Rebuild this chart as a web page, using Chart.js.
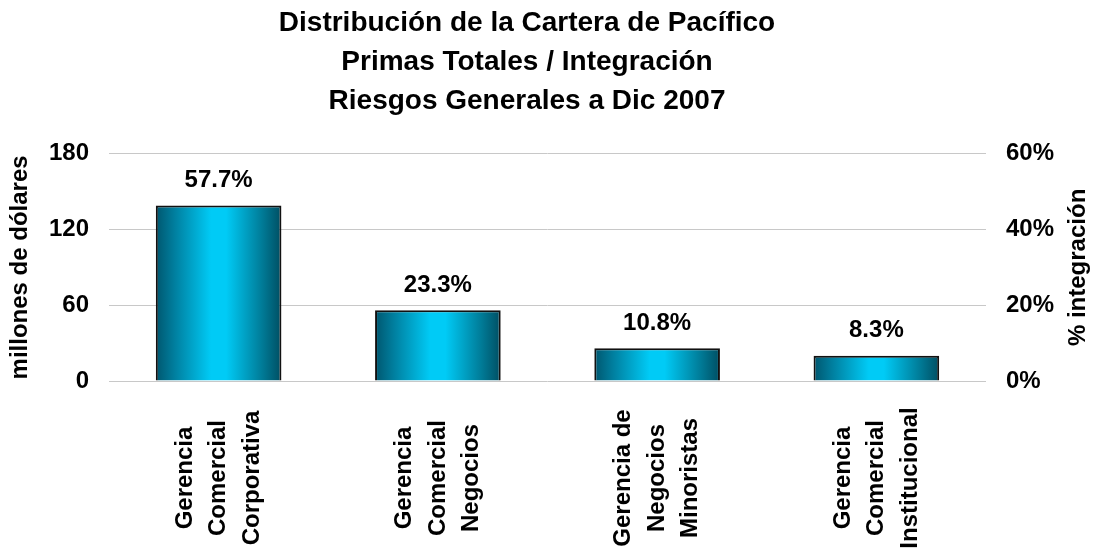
<!DOCTYPE html>
<html>
<head>
<meta charset="utf-8">
<script src="https://cdn.jsdelivr.net/npm/chart.js@4/dist/chart.umd.min.js"></script>
<style>
  body { margin: 0; background: #fff; }
  #wrap { width: 1096px; height: 554px; position: relative; }
</style>
</head>
<body>
<div id="wrap"><canvas id="cartera-chart"></canvas></div>
<script>
/* Distribución de la Cartera - bar chart with % labels */
const categorias = [
  ['Gerencia', 'Comercial', 'Corporativa'],
  ['Gerencia', 'Comercial', 'Negocios'],
  ['Gerencia de', 'Negocios', 'Minoristas'],
  ['Gerencia', 'Comercial', 'Institucional']
];
const primas = [139, 56, 26, 20];          // millones de dólares
const integracion = [57.7, 23.3, 10.8, 8.3]; // % integración
const titulo = [
  'Distribución de la Cartera de Pacífico',
  'Primas Totales / Integración',
  'Riesgos Generales a Dic 2007'
];

const FONT = '"Liberation Sans", Arial, sans-serif';

// horizontal cylinder-like gradient for each bar, based on the x scale
function barGradient(c) {
  const chart = c.chart;
  const x = chart.scales.x;
  if (!chart.chartArea || !x) return '#00b0d8';
  const center = x.getPixelForValue(c.dataIndex);
  const half = (x.width / categorias.length) * 0.573 / 2;
  const g = chart.ctx.createLinearGradient(center - half, 0, center + half, 0);
  g.addColorStop(0, '#00566e');
  g.addColorStop(0.15, '#007f9f');
  g.addColorStop(0.44, '#00cbf6');
  g.addColorStop(0.56, '#00cbf6');
  g.addColorStop(0.85, '#007a96');
  g.addColorStop(1, '#004e62');
  return g;
}

const extras = {
  id: 'extras',
  afterDatasetsDraw(chart) {
    const ctx = chart.ctx;
    const meta = chart.getDatasetMeta(0);
    ctx.save();
    ctx.fillStyle = '#000';
    ctx.font = 'bold 24px ' + FONT;
    ctx.textAlign = 'center';
    ctx.textBaseline = 'middle';
    meta.data.forEach((bar, i) => {
      ctx.fillText(integracion[i].toFixed(1) + '%', bar.x, bar.y - 25);
    });
    ctx.restore();
  },
  afterDraw(chart) {
    const ctx = chart.ctx;
    const x = chart.scales.x;
    const y = chart.scales.y;
    ctx.save();
    ctx.fillStyle = '#000';
    ctx.font = 'bold 24px ' + FONT;
    ctx.textAlign = 'center';
    ctx.textBaseline = 'middle';
    // rotated category labels, lines centered
    categorias.forEach((lines, i) => {
      ctx.save();
      ctx.translate(x.getPixelForValue(i), 478);
      ctx.rotate(-Math.PI / 2);
      lines.forEach((t, k) => {
        ctx.fillText(t, 0, (k - (lines.length - 1) / 2) * 33.5);
      });
      ctx.restore();
    });
    // right axis title, reading bottom to top
    ctx.save();
    ctx.translate(1078, (y.top + y.bottom) / 2);
    ctx.rotate(-Math.PI / 2);
    ctx.fillText('% integración', 0, 0);
    ctx.restore();
    ctx.restore();
  }
};

new Chart(document.getElementById('cartera-chart'), {
  type: 'bar',
  data: {
    labels: categorias.map(c => c.join(' ')),
    datasets: [
      {
        label: 'Primas totales',
        data: primas,
        yAxisID: 'y',
        backgroundColor: barGradient,
        borderColor: '#111',
        borderWidth: 2,
        barPercentage: 0.573,
        categoryPercentage: 1,
      },
      {
        type: 'line',
        label: '% integración',
        data: integracion.map(v => v / 100),
        yAxisID: 'y1',
        showLine: false,
        pointRadius: 0,
      }
    ]
  },
  options: {
    responsive: true, maintainAspectRatio: false,
    animation: false,
    layout: { padding: { left: 0, right: 42, top: 0, bottom: 173 } },
    scales: {
      x: {
        grid: { display: false, drawTicks: false },
        border: { display: false },
        ticks: { display: false },
      },
      y: {
        position: 'left',
        min: 0, max: 180,
        afterFit: s => { s.width = 109; },
        grid: { color: '#c8c8c8', lineWidth: 1, drawTicks: false },
        border: { display: false },
        ticks: { stepSize: 60, color: '#000', padding: 20, font: { size: 24, weight: 'bold', family: FONT } },
        title: {
          display: true, text: 'millones de dólares', color: '#000',
          padding: { top: 6, bottom: 14 },
          font: { size: 24, weight: 'bold', family: FONT }
        }
      },
      y1: {
        position: 'right',
        min: 0, max: 0.6,
        afterFit: s => { s.width = 68; },
        grid: { drawOnChartArea: false, drawTicks: false },
        border: { display: false },
        ticks: {
          stepSize: 0.2, color: '#000', padding: 20,
          font: { size: 24, weight: 'bold', family: FONT },
          callback: v => Math.round(v * 100) + '%'
        }
      }
    },
    plugins: {
      legend: { display: false },
      tooltip: { enabled: false },
      title: {
        display: true, text: titulo, color: '#000',
        padding: { top: 4, bottom: 33 },
        font: { size: 28, weight: 'bold', family: FONT, lineHeight: 1.39 }
      }
    }
  },
  plugins: [extras]
});
</script>
</body>
</html>
